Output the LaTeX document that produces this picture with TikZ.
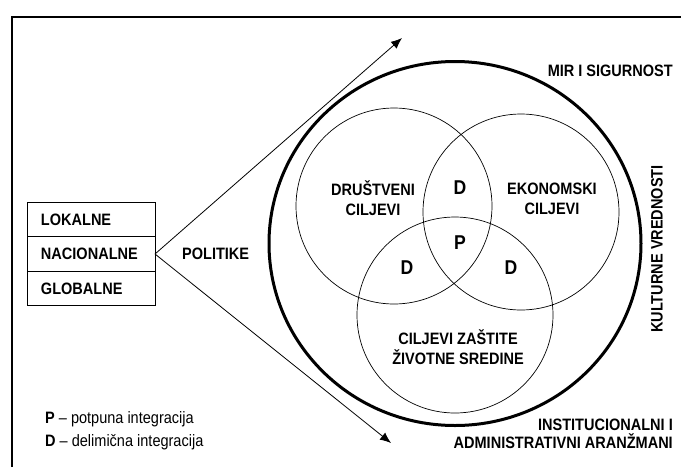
\documentclass[tikz,border=0pt]{standalone}
\usepackage{fontspec}
\setmainfont{Liberation Sans}[FakeStretch=0.88]
\usetikzlibrary{positioning}
\usetikzlibrary{arrows.meta}

\tikzset{
  cell/.style={draw, line width=0.9pt, minimum width=128pt, minimum height=34.5pt, outer sep=0pt, inner xsep=14pt, text width=100pt, align=left, font=\bfseries\fontsize{16.5}{18}\selectfont},
  lbl/.style={align=center, inner sep=0pt, font=\bfseries\fontsize{16.5}{20.5}\selectfont},
  zone/.style={inner sep=0pt, font=\bfseries\fontsize{20}{22}\selectfont},
  goal/.style={line width=0.7pt},
  pol/.style={line width=0.8pt, -{Latex[length=11pt,width=9pt]}},
  legend/.style={anchor=west, inner sep=0pt, font=\fontsize{16.5}{18}\selectfont}
}

\begin{document}
\begin{tikzpicture}[x=1pt,y=-1pt]
\useasboundingbox (0,0) rectangle (681,467);
\draw[line width=2.5pt] (12,467) -- (12,17) -- (681,17);

\node[cell] (lok) at (91,219.5) {LOKALNE};
\node[cell,below=0pt of lok] (nac) {NACIONALNE};
\node[cell,below=0pt of nac] (glo) {GLOBALNE};
\node[lbl,right=27pt of nac] (pol) {POLITIKE};

\coordinate (up) at (402,38);
\coordinate (dn) at (391,443);
\draw[pol] (nac.east) -- (up);
\draw[pol] (nac.east) -- (dn);

\draw[line width=3pt] (455,243.5) ellipse[x radius=186pt, y radius=182pt];
\draw[goal] (394,206) circle[radius=98pt];
\draw[goal] (521,212) circle[radius=98pt];
\draw[goal] (455,315) circle[radius=98pt];

\node[lbl] (dru) at (373,198) {DRUŠTVENI\\CILJEVI};
\node[lbl] (eko) at (552,199) {EKONOMSKI\\CILJEVI};
\node[lbl] (zas) at (458,347) {CILJEVI ZAŠTITE\\ŽIVOTNE SREDINE};
\node[zone] (d1) at (460,188) {D};
\node[zone] (p) at (460,243) {P};
\node[zone] (d2) at (407,268) {D};
\node[zone] (d3) at (511,268) {D};

\node[lbl,anchor=east] (mir) at (673,71) {MIR I SIGURNOST};
\node[lbl,rotate=90] (kul) at (657,249) {KULTURNE VREDNOSTI};
\node[lbl,align=right,anchor=east,font=\bfseries\fontsize{16.5}{17.5}\selectfont] (ins) at (673,434) {INSTITUCIONALNI I\\ADMINISTRATIVNI ARANŽMANI};

\node[legend] (lp) at (45,419) {{\bfseries P} -- potpuna integracija};
\node[legend] (ld) at (45,442) {{\bfseries D} -- delimična integracija};
\end{tikzpicture}
\end{document}
